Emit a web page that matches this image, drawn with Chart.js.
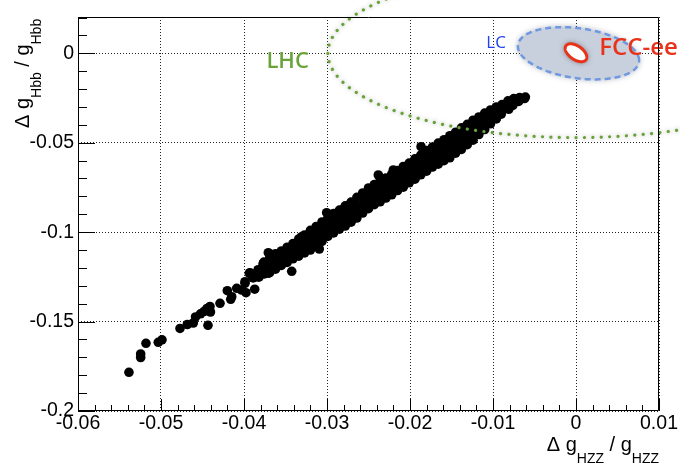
<!DOCTYPE html>
<html><head><meta charset="utf-8">
<script src="https://cdn.jsdelivr.net/npm/chart.js@4.4.1/dist/chart.umd.min.js"></script>
<style>html,body{margin:0;padding:0;background:#fff;}#wrap{width:680px;height:467px;}</style>
</head><body><div id="wrap"><canvas id="c" width="680" height="467"></canvas></div>
<script>
// ---- data ----
const xTickValues = [-0.06, -0.05, -0.04, -0.03, -0.02, -0.01, 0, 0.01];
const yTickValues = [-0.2, -0.15, -0.1, -0.05, 0];

// scan points: [Δg_HZZ/g_HZZ, Δg_Hbb/g_Hbb]
const scanPoints = [
[-0.05386,-0.17835],[-0.05245,-0.16812],[-0.05245,-0.17008],[-0.05181,-0.16214],
[-0.05033,-0.16158],[-0.04988,-0.16018],[-0.04771,-0.15386],[-0.04683,-0.15163],
[-0.04611,-0.15079],[-0.04584,-0.14743],[-0.04524,-0.14565],[-0.04482,-0.14436],
[-0.04446,-0.14268],[-0.04410,-0.14157],[-0.04404,-0.14464],[-0.04434,-0.15207],
[-0.04289,-0.13977],[-0.04160,-0.13754],[-0.04201,-0.13273],[-0.04148,-0.13609],
[-0.04088,-0.13139],[-0.04028,-0.13234],[-0.03988,-0.12859],[-0.03976,-0.13385],
[-0.03871,-0.13190],[-0.03936,-0.12300],[-0.03847,-0.12490],[-0.03767,-0.11780],
[-0.03707,-0.12300],[-0.03606,-0.11931],[-0.03687,-0.11221],[-0.03527,-0.11372],
[-0.03425,-0.12190],[-0.03446,-0.10998],[-0.03365,-0.10623],[-0.03305,-0.10254],
[-0.03245,-0.10438],[-0.03093,-0.10942],[-0.02382,-0.06804],[-0.02201,-0.06525],
[-0.01867,-0.05222],[-0.03004,-0.08912],[-0.02823,-0.08761],[-0.03707,-0.11148],
[-0.03767,-0.11741],[-0.03928,-0.12267],[-0.03988,-0.12770],
[-0.0390,-0.1244],[-0.0389,-0.1256],
[-0.0383,-0.1210],[-0.0384,-0.1233],[-0.0382,-0.1252],
[-0.0376,-0.1167],[-0.0377,-0.1189],[-0.0375,-0.1214],[-0.0376,-0.1234],
[-0.0369,-0.1142],[-0.0368,-0.1171],[-0.0370,-0.1197],[-0.0369,-0.1226],
[-0.0362,-0.1121],[-0.0363,-0.1151],[-0.0361,-0.1179],[-0.0362,-0.1207],
[-0.0355,-0.1105],[-0.0354,-0.1130],[-0.0356,-0.1161],[-0.0355,-0.1186],
[-0.0348,-0.1084],[-0.0349,-0.1114],[-0.0347,-0.1140],[-0.0348,-0.1169],
[-0.0341,-0.1064],[-0.0340,-0.1091],[-0.0342,-0.1123],[-0.0341,-0.1149],
[-0.0334,-0.1038],[-0.0335,-0.1072],[-0.0333,-0.1102],[-0.0334,-0.1134],
[-0.0327,-0.1016],[-0.0326,-0.1049],[-0.0328,-0.1086],[-0.0327,-0.1116],
[-0.0320,-0.0990],[-0.0321,-0.1028],[-0.0319,-0.1063],[-0.0320,-0.1100],
[-0.0313,-0.0968],[-0.0312,-0.1003],[-0.0314,-0.1041],[-0.0313,-0.1074],
[-0.0306,-0.0943],[-0.0307,-0.0981],[-0.0305,-0.1015],[-0.0306,-0.1051],
[-0.0299,-0.0921],[-0.0298,-0.0955],[-0.0300,-0.0992],[-0.0299,-0.1024],
[-0.0292,-0.0896],[-0.0293,-0.0934],[-0.0291,-0.0968],[-0.0292,-0.1004],
[-0.0285,-0.0877],[-0.0284,-0.0911],[-0.0286,-0.0951],[-0.0285,-0.0983],
[-0.0278,-0.0853],[-0.0279,-0.0893],[-0.0277,-0.0928],[-0.0278,-0.0966],
[-0.0271,-0.0832],[-0.0270,-0.0868],[-0.0272,-0.0908],[-0.0271,-0.0944],
[-0.0264,-0.0805],[-0.0265,-0.0846],[-0.0263,-0.0882],[-0.0264,-0.0921],
[-0.0257,-0.0781],[-0.0256,-0.0817],[-0.0258,-0.0858],[-0.0257,-0.0893],
[-0.0250,-0.0753],[-0.0251,-0.0793],[-0.0249,-0.0830],[-0.0250,-0.0869],
[-0.0243,-0.0734],[-0.0242,-0.0771],[-0.0244,-0.0811],[-0.0243,-0.0846],
[-0.0236,-0.0714],[-0.0237,-0.0754],[-0.0235,-0.0791],[-0.0236,-0.0830],
[-0.0229,-0.0697],[-0.0228,-0.0734],[-0.0230,-0.0774],[-0.0229,-0.0809],
[-0.0222,-0.0675],[-0.0223,-0.0716],[-0.0221,-0.0752],[-0.0222,-0.0791],
[-0.0215,-0.0656],[-0.0214,-0.0692],[-0.0216,-0.0732],[-0.0215,-0.0767],
[-0.0208,-0.0633],[-0.0209,-0.0673],[-0.0207,-0.0709],[-0.0208,-0.0748],
[-0.0201,-0.0614],[-0.0200,-0.0650],[-0.0202,-0.0690],[-0.0201,-0.0724],
[-0.0194,-0.0590],[-0.0195,-0.0630],[-0.0193,-0.0666],[-0.0194,-0.0704],
[-0.0187,-0.0569],[-0.0186,-0.0605],[-0.0188,-0.0645],[-0.0187,-0.0679],
[-0.0180,-0.0544],[-0.0181,-0.0585],[-0.0179,-0.0621],[-0.0180,-0.0659],
[-0.0173,-0.0524],[-0.0172,-0.0561],[-0.0174,-0.0602],[-0.0173,-0.0636],
[-0.0166,-0.0502],[-0.0167,-0.0544],[-0.0165,-0.0581],[-0.0166,-0.0620],
[-0.0159,-0.0483],[-0.0158,-0.0522],[-0.0160,-0.0564],[-0.0159,-0.0600],
[-0.0152,-0.0461],[-0.0153,-0.0504],[-0.0151,-0.0543],[-0.0152,-0.0584],
[-0.0145,-0.0441],[-0.0144,-0.0480],[-0.0146,-0.0522],[-0.0145,-0.0558],
[-0.0138,-0.0417],[-0.0139,-0.0460],[-0.0137,-0.0498],[-0.0138,-0.0537],
[-0.0131,-0.0397],[-0.0130,-0.0435],[-0.0132,-0.0477],[-0.0131,-0.0511],
[-0.0124,-0.0374],[-0.0125,-0.0414],[-0.0123,-0.0450],[-0.0124,-0.0486],
[-0.0117,-0.0356],[-0.0116,-0.0389],[-0.0118,-0.0425],[-0.0117,-0.0454],
[-0.0110,-0.0334],[-0.0111,-0.0368],[-0.0109,-0.0397],[-0.0110,-0.0426],
[-0.0103,-0.0317],[-0.0102,-0.0343],[-0.0104,-0.0373],[-0.0103,-0.0394],
[-0.0096,-0.0300],[-0.0097,-0.0326],[-0.0095,-0.0346],[-0.0096,-0.0367],
[-0.0089,-0.0286],[-0.0088,-0.0311],[-0.0090,-0.0340],
[-0.0082,-0.0266],[-0.0083,-0.0292],[-0.0081,-0.0313],
[-0.0075,-0.0253],[-0.0074,-0.0271],[-0.0076,-0.0291],
[-0.0068,-0.0248],[-0.0069,-0.0269],
[-0.0061,-0.0245],[-0.0062,-0.0253]
];

// projected precision contours (centre, sigma, correlation)
const ellipseNames = ['LHC', 'LC', 'FCC-ee'];
const ellipseCenterHZZ = [0, 0.0003, 0];
const ellipseCenterHbb = [0, 0, 0.0003];
const ellipseSigmaHZZ = [0.0299, 0.0073, 0.0013];
const ellipseSigmaHbb = [0.0471, 0.0146, 0.0050];
const ellipseRho = [0, -0.27, -0.5];

// ---- styling ----
const FONT = "'Liberation Sans', Arial, Helvetica, sans-serif";
const labelStyle = {
  'LHC':    {x: -0.0373, y: -0.0084, font: "600 22px 'Open Sans', sans-serif", color: '#6aa33a'},
  'LC':     {x: -0.0108, y: 0.0028,  font: "400 17px 'Open Sans', sans-serif", color: '#1c44f0'},
  'FCC-ee': {x: 0.0028,  y: -0.0011, font: "600 24px 'Open Sans', sans-serif", color: '#e8321a'}
};

function ellipsePath(ctx, xs, ys, i) {
  const n = 240, r = ellipseRho[i], s = Math.sqrt(1 - r * r);
  ctx.beginPath();
  for (let k = 0; k <= n; k++) {
    const t = 2 * Math.PI * k / n;
    const dx = ellipseSigmaHZZ[i] * Math.cos(t);
    const dy = ellipseSigmaHbb[i] * (r * Math.cos(t) + s * Math.sin(t));
    const px = xs.getPixelForValue(ellipseCenterHZZ[i] + dx);
    const py = ys.getPixelForValue(ellipseCenterHbb[i] + dy);
    if (k === 0) ctx.moveTo(px, py); else ctx.lineTo(px, py);
  }
  ctx.closePath();
}

function drawSubText(ctx, parts, mainSize, subSize, subDrop) {
  let w = 0;
  const widths = parts.map(p => {
    ctx.font = (p.sub ? subSize : mainSize) + 'px ' + FONT;
    const m = ctx.measureText(p.t).width; w += m; return m;
  });
  return {total: w, draw(x0, y0) {
    let x = x0;
    parts.forEach((p, j) => {
      ctx.font = (p.sub ? subSize : mainSize) + 'px ' + FONT;
      ctx.fillText(p.t, x, y0 + (p.sub ? subDrop : 0));
      x += widths[j];
    });
  }};
}

const overlay = {
  id: 'overlay',
  afterDatasetsDraw(chart) {
    const {ctx, scales: {x, y}} = chart;
    ctx.save();
    // LHC dotted contour
    ellipsePath(ctx, x, y, 0);
    ctx.setLineDash([0.1, 8.3]);
    ctx.lineCap = 'round';
    ctx.lineWidth = 3.2;
    ctx.strokeStyle = '#68a238';
    ctx.shadowColor = 'rgba(0,0,0,0.35)';
    ctx.shadowBlur = 4;
    ctx.stroke();
    // LC filled dashed contour
    ctx.setLineDash([]);
    ctx.shadowColor = 'rgba(60,70,100,0.45)';
    ctx.shadowBlur = 6;
    ellipsePath(ctx, x, y, 1);
    ctx.fillStyle = '#c9d0dd';
    ctx.fill();
    ctx.shadowBlur = 0; ctx.shadowColor = 'transparent';
    ctx.setLineDash([6, 4]);
    ctx.lineCap = 'butt';
    ctx.lineWidth = 2.5;
    ctx.strokeStyle = '#6f98e0';
    ctx.stroke();
    // FCC-ee contour
    ctx.setLineDash([]);
    ellipsePath(ctx, x, y, 2);
    ctx.shadowColor = 'rgba(0,0,0,0.6)';
    ctx.shadowBlur = 6;
    ctx.fillStyle = '#ffffff';
    ctx.fill();
    ctx.shadowBlur = 0; ctx.shadowColor = 'transparent';
    ctx.lineWidth = 3;
    ctx.strokeStyle = '#e8321a';
    ctx.stroke();
    // labels
    ctx.textAlign = 'left';
    ctx.textBaseline = 'alphabetic';
    ellipseNames.forEach(nm => {
      const L = labelStyle[nm];
      ctx.font = L.font; ctx.fillStyle = L.color;
      ctx.fillText(nm, x.getPixelForValue(L.x), y.getPixelForValue(L.y));
    });
    ctx.restore();
  },
  afterDraw(chart) {
    const {ctx, chartArea: a, scales: {x, y}} = chart;
    ctx.save();
    ctx.strokeStyle = '#000';
    ctx.lineWidth = 1;
    ctx.setLineDash([]);
    ctx.beginPath();
    ctx.rect(Math.round(a.left) + 0.5, Math.round(a.top) + 0.5, Math.round(a.right - a.left) - 1, Math.round(a.bottom - a.top) - 1);
    ctx.stroke();
    // inward ticks
    ctx.beginPath();
    for (let i = -30; i <= 5; i++) {
      const v = i * 0.002;
      const px = Math.round(x.getPixelForValue(v)) + 0.5;
      const len = (i % 5 === 0) ? 12 : 6;
      ctx.moveTo(px, a.bottom); ctx.lineTo(px, a.bottom - len);
    }
    for (let i = -20; i <= 2; i++) {
      const v = i * 0.01;
      const py = Math.round(y.getPixelForValue(v)) + 0.5;
      if (py < a.top + 1) continue;
      const len = (i % 5 === 0) ? 17 : 9;
      ctx.moveTo(a.left, py); ctx.lineTo(a.left + len, py);
    }
    ctx.stroke();
    // axis titles
    ctx.fillStyle = '#000';
    ctx.textBaseline = 'alphabetic';
    ctx.textAlign = 'left';
    const xt = drawSubText(ctx, [{t: 'Δ g'}, {t: 'HZZ', sub: true}, {t: ' / g'}, {t: 'HZZ', sub: true}], 20, 14, 12);
    xt.draw(a.right - xt.total, 451);
    ctx.translate(29, 128);
    ctx.rotate(-Math.PI / 2);
    const yt = drawSubText(ctx, [{t: 'Δ g'}, {t: 'Hbb', sub: true}, {t: ' / g'}, {t: 'Hbb', sub: true}], 20, 14, 12);
    yt.draw(0, 0);
    ctx.restore();
  }
};

const tickFont = {family: FONT, size: 19.5};

new Chart(document.getElementById('c'), {
  type: 'scatter',
  data: {datasets: [{
    data: scanPoints.map(p => ({x: p[0], y: p[1]})),
    pointRadius: 4.8, pointHoverRadius: 4.8,
    backgroundColor: '#000', borderWidth: 0, pointBorderWidth: 0
  }]},
  options: {
    responsive: false, animation: false, devicePixelRatio: 1, events: [],
    layout: {padding: {left: 0, right: 21, top: 17, bottom: 0}},
    plugins: {legend: {display: false}, tooltip: {enabled: false}},
    scales: {
      x: {
        type: 'linear', min: -0.06, max: 0.01,
        afterBuildTicks: s => { s.ticks = xTickValues.map(v => ({value: v})); },
        afterFit: s => { s.height = 56; },
        ticks: {callback: v => String(v), font: tickFont, color: '#000', padding: 1, maxRotation: 0, autoSkip: false},
        grid: {color: '#222', lineWidth: 1, drawTicks: false},
        border: {display: false, dash: [1, 2]}
      },
      y: {
        type: 'linear', min: -0.2, max: 0.0203,
        afterBuildTicks: s => { s.ticks = yTickValues.map(v => ({value: v})); },
        afterFit: s => { s.width = 78; },
        ticks: {callback: v => String(v), font: tickFont, color: '#000', padding: 4, autoSkip: false},
        grid: {color: '#222', lineWidth: 1, drawTicks: false},
        border: {display: false, dash: [1, 2]}
      }
    }
  },
  plugins: [overlay]
});
</script>
</body></html>
